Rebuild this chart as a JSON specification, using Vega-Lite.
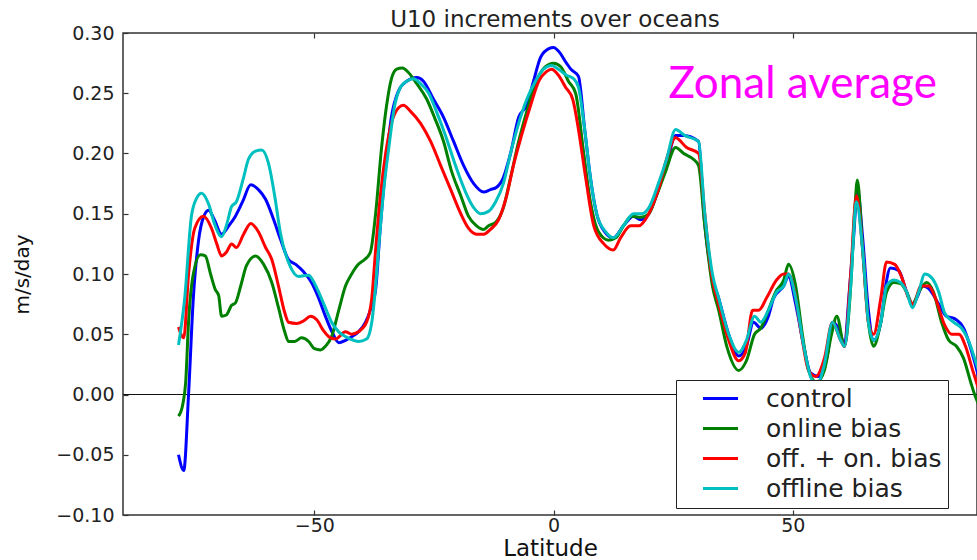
{
 "$schema": "https://vega.github.io/schema/vega-lite/v6.json",
 "width": 854,
 "height": 482,
 "autosize": "none",
 "padding": {"left": 123, "top": 33, "right": 0, "bottom": 45},
 "background": "white",
 "config": {"view": {"stroke": "#333", "strokeWidth": 1.5}, "font": "DejaVu Sans"},
 "title": {"text": "U10 increments over oceans", "font": "DejaVu Sans", "fontSize": 23, "fontWeight": "normal", "color": "#222", "offset": -8, "dx": 5, "anchor": "middle", "frame": "group"},
 "datasets": {
  "curves": [
   {"s":"control","lat":-78.4,"u":-0.05},{"s":"control","lat":-77.3,"u":-0.063},{"s":"control","lat":-76.3,"u":0.0},{"s":"control","lat":-75.3,"u":0.08},{"s":"control","lat":-74.2,"u":0.128},{"s":"control","lat":-73.2,"u":0.147},{"s":"control","lat":-72.1,"u":0.153},{"s":"control","lat":-70.9,"u":0.145},{"s":"control","lat":-69.4,"u":0.133},{"s":"control","lat":-67.9,"u":0.14},{"s":"control","lat":-66.5,"u":0.148},{"s":"control","lat":-65.0,"u":0.16},{"s":"control","lat":-63.3,"u":0.174},{"s":"control","lat":-61.7,"u":0.17},{"s":"control","lat":-60.2,"u":0.162},{"s":"control","lat":-58.5,"u":0.145},{"s":"control","lat":-57.1,"u":0.129},{"s":"control","lat":-55.4,"u":0.112},{"s":"control","lat":-53.9,"u":0.108},{"s":"control","lat":-52.3,"u":0.102},{"s":"control","lat":-50.6,"u":0.093},{"s":"control","lat":-49.1,"u":0.08},{"s":"control","lat":-47.7,"u":0.065},{"s":"control","lat":-46.2,"u":0.051},{"s":"control","lat":-44.9,"u":0.043},{"s":"control","lat":-43.5,"u":0.045},{"s":"control","lat":-42.2,"u":0.048},{"s":"control","lat":-40.8,"u":0.052},{"s":"control","lat":-39.3,"u":0.06},{"s":"control","lat":-38.3,"u":0.07},{"s":"control","lat":-37.2,"u":0.087},{"s":"control","lat":-36.2,"u":0.14},{"s":"control","lat":-35.1,"u":0.189},{"s":"control","lat":-33.9,"u":0.23},{"s":"control","lat":-32.4,"u":0.252},{"s":"control","lat":-30.7,"u":0.26},{"s":"control","lat":-28.6,"u":0.263},{"s":"control","lat":-27.2,"u":0.26},{"s":"control","lat":-25.1,"u":0.245},{"s":"control","lat":-23.0,"u":0.23},{"s":"control","lat":-20.9,"u":0.21},{"s":"control","lat":-18.8,"u":0.19},{"s":"control","lat":-16.7,"u":0.175},{"s":"control","lat":-14.6,"u":0.168},{"s":"control","lat":-13.2,"u":0.17},{"s":"control","lat":-11.9,"u":0.172},{"s":"control","lat":-10.5,"u":0.18},{"s":"control","lat":-9.0,"u":0.2},{"s":"control","lat":-7.3,"u":0.23},{"s":"control","lat":-5.6,"u":0.24},{"s":"control","lat":-4.2,"u":0.26},{"s":"control","lat":-2.7,"u":0.28},{"s":"control","lat":-1.0,"u":0.287},{"s":"control","lat":0.0,"u":0.288},{"s":"control","lat":1.0,"u":0.285},{"s":"control","lat":2.7,"u":0.275},{"s":"control","lat":3.6,"u":0.27},{"s":"control","lat":5.2,"u":0.264},{"s":"control","lat":6.5,"u":0.22},{"s":"control","lat":7.7,"u":0.18},{"s":"control","lat":9.0,"u":0.15},{"s":"control","lat":10.7,"u":0.135},{"s":"control","lat":12.5,"u":0.13},{"s":"control","lat":14.6,"u":0.14},{"s":"control","lat":16.7,"u":0.148},{"s":"control","lat":18.2,"u":0.145},{"s":"control","lat":19.9,"u":0.15},{"s":"control","lat":21.9,"u":0.17},{"s":"control","lat":23.6,"u":0.19},{"s":"control","lat":25.5,"u":0.215},{"s":"control","lat":27.2,"u":0.215},{"s":"control","lat":30.3,"u":0.21},{"s":"control","lat":31.4,"u":0.15},{"s":"control","lat":33.0,"u":0.1},{"s":"control","lat":34.5,"u":0.08},{"s":"control","lat":36.6,"u":0.05},{"s":"control","lat":38.7,"u":0.032},{"s":"control","lat":40.3,"u":0.04},{"s":"control","lat":41.8,"u":0.06},{"s":"control","lat":43.3,"u":0.055},{"s":"control","lat":44.9,"u":0.065},{"s":"control","lat":46.0,"u":0.08},{"s":"control","lat":48.1,"u":0.09},{"s":"control","lat":49.1,"u":0.098},{"s":"control","lat":50.6,"u":0.075},{"s":"control","lat":52.3,"u":0.04},{"s":"control","lat":53.7,"u":0.018},{"s":"control","lat":55.4,"u":0.015},{"s":"control","lat":57.1,"u":0.03},{"s":"control","lat":58.5,"u":0.06},{"s":"control","lat":60.0,"u":0.05},{"s":"control","lat":60.8,"u":0.04},{"s":"control","lat":61.7,"u":0.08},{"s":"control","lat":62.7,"u":0.13},{"s":"control","lat":63.5,"u":0.17},{"s":"control","lat":64.6,"u":0.13},{"s":"control","lat":65.8,"u":0.07},{"s":"control","lat":66.9,"u":0.045},{"s":"control","lat":68.4,"u":0.06},{"s":"control","lat":69.4,"u":0.09},{"s":"control","lat":70.4,"u":0.105},{"s":"control","lat":72.1,"u":0.103},{"s":"control","lat":73.8,"u":0.085},{"s":"control","lat":75.0,"u":0.075},{"s":"control","lat":75.9,"u":0.08},{"s":"control","lat":77.1,"u":0.09},{"s":"control","lat":78.4,"u":0.088},{"s":"control","lat":80.5,"u":0.075},{"s":"control","lat":82.1,"u":0.065},{"s":"control","lat":83.8,"u":0.063},{"s":"control","lat":85.7,"u":0.055},{"s":"control","lat":87.8,"u":0.03},{"s":"control","lat":88.8,"u":0.015},
   {"s":"online bias","lat":-78.4,"u":-0.018},{"s":"online bias","lat":-77.5,"u":-0.008},{"s":"online bias","lat":-76.9,"u":0.01},{"s":"online bias","lat":-76.3,"u":0.06},{"s":"online bias","lat":-75.3,"u":0.1},{"s":"online bias","lat":-73.8,"u":0.116},{"s":"online bias","lat":-72.8,"u":0.115},{"s":"online bias","lat":-71.7,"u":0.1},{"s":"online bias","lat":-70.7,"u":0.087},{"s":"online bias","lat":-70.0,"u":0.082},{"s":"online bias","lat":-69.4,"u":0.065},{"s":"online bias","lat":-68.4,"u":0.066},{"s":"online bias","lat":-67.3,"u":0.074},{"s":"online bias","lat":-66.5,"u":0.076},{"s":"online bias","lat":-65.4,"u":0.09},{"s":"online bias","lat":-64.2,"u":0.107},{"s":"online bias","lat":-62.3,"u":0.115},{"s":"online bias","lat":-60.6,"u":0.108},{"s":"online bias","lat":-58.9,"u":0.093},{"s":"online bias","lat":-57.5,"u":0.072},{"s":"online bias","lat":-56.2,"u":0.052},{"s":"online bias","lat":-55.4,"u":0.044},{"s":"online bias","lat":-54.1,"u":0.044},{"s":"online bias","lat":-52.7,"u":0.047},{"s":"online bias","lat":-51.2,"u":0.044},{"s":"online bias","lat":-50.0,"u":0.038},{"s":"online bias","lat":-48.7,"u":0.037},{"s":"online bias","lat":-47.7,"u":0.04},{"s":"online bias","lat":-46.4,"u":0.048},{"s":"online bias","lat":-44.9,"u":0.07},{"s":"online bias","lat":-43.5,"u":0.09},{"s":"online bias","lat":-42.2,"u":0.1},{"s":"online bias","lat":-40.8,"u":0.108},{"s":"online bias","lat":-39.5,"u":0.112},{"s":"online bias","lat":-38.3,"u":0.118},{"s":"online bias","lat":-37.2,"u":0.15},{"s":"online bias","lat":-36.0,"u":0.203},{"s":"online bias","lat":-34.9,"u":0.24},{"s":"online bias","lat":-33.9,"u":0.262},{"s":"online bias","lat":-32.8,"u":0.27},{"s":"online bias","lat":-31.6,"u":0.271},{"s":"online bias","lat":-30.3,"u":0.267},{"s":"online bias","lat":-28.6,"u":0.258},{"s":"online bias","lat":-26.5,"u":0.245},{"s":"online bias","lat":-24.9,"u":0.23},{"s":"online bias","lat":-23.0,"u":0.21},{"s":"online bias","lat":-21.3,"u":0.185},{"s":"online bias","lat":-19.4,"u":0.165},{"s":"online bias","lat":-17.8,"u":0.148},{"s":"online bias","lat":-16.1,"u":0.14},{"s":"online bias","lat":-14.6,"u":0.137},{"s":"online bias","lat":-13.6,"u":0.14},{"s":"online bias","lat":-12.1,"u":0.143},{"s":"online bias","lat":-10.5,"u":0.155},{"s":"online bias","lat":-9.0,"u":0.18},{"s":"online bias","lat":-7.3,"u":0.21},{"s":"online bias","lat":-5.6,"u":0.235},{"s":"online bias","lat":-3.6,"u":0.26},{"s":"online bias","lat":-1.7,"u":0.272},{"s":"online bias","lat":0.0,"u":0.275},{"s":"online bias","lat":1.5,"u":0.272},{"s":"online bias","lat":3.1,"u":0.26},{"s":"online bias","lat":4.6,"u":0.25},{"s":"online bias","lat":6.3,"u":0.2},{"s":"online bias","lat":7.7,"u":0.16},{"s":"online bias","lat":9.4,"u":0.135},{"s":"online bias","lat":11.5,"u":0.128},{"s":"online bias","lat":13.0,"u":0.13},{"s":"online bias","lat":14.6,"u":0.14},{"s":"online bias","lat":16.3,"u":0.148},{"s":"online bias","lat":18.2,"u":0.147},{"s":"online bias","lat":19.9,"u":0.15},{"s":"online bias","lat":21.5,"u":0.165},{"s":"online bias","lat":23.4,"u":0.185},{"s":"online bias","lat":25.5,"u":0.205},{"s":"online bias","lat":27.2,"u":0.2},{"s":"online bias","lat":29.3,"u":0.195},{"s":"online bias","lat":30.3,"u":0.19},{"s":"online bias","lat":31.6,"u":0.14},{"s":"online bias","lat":33.2,"u":0.09},{"s":"online bias","lat":34.5,"u":0.07},{"s":"online bias","lat":36.2,"u":0.04},{"s":"online bias","lat":38.7,"u":0.02},{"s":"online bias","lat":40.3,"u":0.028},{"s":"online bias","lat":42.0,"u":0.05},{"s":"online bias","lat":43.3,"u":0.055},{"s":"online bias","lat":44.9,"u":0.07},{"s":"online bias","lat":46.4,"u":0.085},{"s":"online bias","lat":48.1,"u":0.095},{"s":"online bias","lat":49.1,"u":0.108},{"s":"online bias","lat":50.6,"u":0.09},{"s":"online bias","lat":52.0,"u":0.05},{"s":"online bias","lat":53.3,"u":0.02},{"s":"online bias","lat":55.0,"u":0.01},{"s":"online bias","lat":56.6,"u":0.02},{"s":"online bias","lat":58.1,"u":0.05},{"s":"online bias","lat":59.2,"u":0.065},{"s":"online bias","lat":60.8,"u":0.04},{"s":"online bias","lat":62.1,"u":0.09},{"s":"online bias","lat":62.9,"u":0.15},{"s":"online bias","lat":63.5,"u":0.178},{"s":"online bias","lat":64.6,"u":0.12},{"s":"online bias","lat":65.8,"u":0.06},{"s":"online bias","lat":66.9,"u":0.04},{"s":"online bias","lat":68.4,"u":0.06},{"s":"online bias","lat":69.6,"u":0.085},{"s":"online bias","lat":71.1,"u":0.093},{"s":"online bias","lat":72.5,"u":0.092},{"s":"online bias","lat":73.8,"u":0.085},{"s":"online bias","lat":75.0,"u":0.075},{"s":"online bias","lat":76.3,"u":0.085},{"s":"online bias","lat":78.0,"u":0.093},{"s":"online bias","lat":79.4,"u":0.085},{"s":"online bias","lat":81.1,"u":0.06},{"s":"online bias","lat":82.6,"u":0.045},{"s":"online bias","lat":84.2,"u":0.04},{"s":"online bias","lat":85.7,"u":0.03},{"s":"online bias","lat":87.2,"u":0.01},{"s":"online bias","lat":88.0,"u":0.0},{"s":"online bias","lat":88.8,"u":-0.008},
   {"s":"off. + on. bias","lat":-78.4,"u":0.056},{"s":"off. + on. bias","lat":-77.3,"u":0.047},{"s":"off. + on. bias","lat":-76.3,"u":0.1},{"s":"off. + on. bias","lat":-75.0,"u":0.138},{"s":"off. + on. bias","lat":-73.2,"u":0.148},{"s":"off. + on. bias","lat":-71.5,"u":0.138},{"s":"off. + on. bias","lat":-70.4,"u":0.125},{"s":"off. + on. bias","lat":-69.4,"u":0.115},{"s":"off. + on. bias","lat":-68.4,"u":0.118},{"s":"off. + on. bias","lat":-67.3,"u":0.125},{"s":"off. + on. bias","lat":-66.3,"u":0.122},{"s":"off. + on. bias","lat":-64.8,"u":0.133},{"s":"off. + on. bias","lat":-63.3,"u":0.142},{"s":"off. + on. bias","lat":-61.7,"u":0.135},{"s":"off. + on. bias","lat":-60.2,"u":0.122},{"s":"off. + on. bias","lat":-58.9,"u":0.112},{"s":"off. + on. bias","lat":-57.5,"u":0.09},{"s":"off. + on. bias","lat":-56.2,"u":0.068},{"s":"off. + on. bias","lat":-55.4,"u":0.06},{"s":"off. + on. bias","lat":-53.7,"u":0.059},{"s":"off. + on. bias","lat":-52.3,"u":0.061},{"s":"off. + on. bias","lat":-50.8,"u":0.065},{"s":"off. + on. bias","lat":-49.5,"u":0.062},{"s":"off. + on. bias","lat":-48.1,"u":0.053},{"s":"off. + on. bias","lat":-47.0,"u":0.048},{"s":"off. + on. bias","lat":-45.6,"u":0.046},{"s":"off. + on. bias","lat":-43.5,"u":0.052},{"s":"off. + on. bias","lat":-42.2,"u":0.05},{"s":"off. + on. bias","lat":-40.8,"u":0.052},{"s":"off. + on. bias","lat":-39.1,"u":0.06},{"s":"off. + on. bias","lat":-38.0,"u":0.08},{"s":"off. + on. bias","lat":-37.2,"u":0.12},{"s":"off. + on. bias","lat":-36.2,"u":0.165},{"s":"off. + on. bias","lat":-35.1,"u":0.2},{"s":"off. + on. bias","lat":-33.9,"u":0.225},{"s":"off. + on. bias","lat":-32.4,"u":0.238},{"s":"off. + on. bias","lat":-31.4,"u":0.24},{"s":"off. + on. bias","lat":-29.9,"u":0.235},{"s":"off. + on. bias","lat":-27.8,"u":0.225},{"s":"off. + on. bias","lat":-25.7,"u":0.21},{"s":"off. + on. bias","lat":-23.6,"u":0.19},{"s":"off. + on. bias","lat":-21.5,"u":0.17},{"s":"off. + on. bias","lat":-19.4,"u":0.15},{"s":"off. + on. bias","lat":-17.8,"u":0.138},{"s":"off. + on. bias","lat":-16.1,"u":0.133},{"s":"off. + on. bias","lat":-14.6,"u":0.133},{"s":"off. + on. bias","lat":-13.2,"u":0.137},{"s":"off. + on. bias","lat":-11.5,"u":0.145},{"s":"off. + on. bias","lat":-9.8,"u":0.165},{"s":"off. + on. bias","lat":-8.4,"u":0.19},{"s":"off. + on. bias","lat":-6.7,"u":0.215},{"s":"off. + on. bias","lat":-4.8,"u":0.24},{"s":"off. + on. bias","lat":-3.1,"u":0.26},{"s":"off. + on. bias","lat":-1.5,"u":0.268},{"s":"off. + on. bias","lat":-0.4,"u":0.27},{"s":"off. + on. bias","lat":1.0,"u":0.265},{"s":"off. + on. bias","lat":2.5,"u":0.255},{"s":"off. + on. bias","lat":4.0,"u":0.245},{"s":"off. + on. bias","lat":5.2,"u":0.22},{"s":"off. + on. bias","lat":6.7,"u":0.18},{"s":"off. + on. bias","lat":8.4,"u":0.14},{"s":"off. + on. bias","lat":10.5,"u":0.125},{"s":"off. + on. bias","lat":12.5,"u":0.12},{"s":"off. + on. bias","lat":14.0,"u":0.13},{"s":"off. + on. bias","lat":16.1,"u":0.14},{"s":"off. + on. bias","lat":17.8,"u":0.14},{"s":"off. + on. bias","lat":19.9,"u":0.15},{"s":"off. + on. bias","lat":21.9,"u":0.17},{"s":"off. + on. bias","lat":23.6,"u":0.195},{"s":"off. + on. bias","lat":25.5,"u":0.213},{"s":"off. + on. bias","lat":27.8,"u":0.205},{"s":"off. + on. bias","lat":30.3,"u":0.2},{"s":"off. + on. bias","lat":31.6,"u":0.15},{"s":"off. + on. bias","lat":33.0,"u":0.1},{"s":"off. + on. bias","lat":34.5,"u":0.075},{"s":"off. + on. bias","lat":36.6,"u":0.045},{"s":"off. + on. bias","lat":38.7,"u":0.028},{"s":"off. + on. bias","lat":40.1,"u":0.035},{"s":"off. + on. bias","lat":41.6,"u":0.07},{"s":"off. + on. bias","lat":42.9,"u":0.07},{"s":"off. + on. bias","lat":44.5,"u":0.08},{"s":"off. + on. bias","lat":46.6,"u":0.095},{"s":"off. + on. bias","lat":48.1,"u":0.1},{"s":"off. + on. bias","lat":49.1,"u":0.1},{"s":"off. + on. bias","lat":50.4,"u":0.085},{"s":"off. + on. bias","lat":51.8,"u":0.05},{"s":"off. + on. bias","lat":53.3,"u":0.02},{"s":"off. + on. bias","lat":54.8,"u":0.015},{"s":"off. + on. bias","lat":56.6,"u":0.03},{"s":"off. + on. bias","lat":58.3,"u":0.06},{"s":"off. + on. bias","lat":60.0,"u":0.045},{"s":"off. + on. bias","lat":60.8,"u":0.04},{"s":"off. + on. bias","lat":62.1,"u":0.1},{"s":"off. + on. bias","lat":63.3,"u":0.165},{"s":"off. + on. bias","lat":64.6,"u":0.12},{"s":"off. + on. bias","lat":65.8,"u":0.06},{"s":"off. + on. bias","lat":66.9,"u":0.05},{"s":"off. + on. bias","lat":68.4,"u":0.08},{"s":"off. + on. bias","lat":69.6,"u":0.11},{"s":"off. + on. bias","lat":71.3,"u":0.108},{"s":"off. + on. bias","lat":72.7,"u":0.098},{"s":"off. + on. bias","lat":74.2,"u":0.08},{"s":"off. + on. bias","lat":75.3,"u":0.075},{"s":"off. + on. bias","lat":76.7,"u":0.09},{"s":"off. + on. bias","lat":78.4,"u":0.09},{"s":"off. + on. bias","lat":79.8,"u":0.08},{"s":"off. + on. bias","lat":81.7,"u":0.058},{"s":"off. + on. bias","lat":83.2,"u":0.05},{"s":"off. + on. bias","lat":84.7,"u":0.05},{"s":"off. + on. bias","lat":86.1,"u":0.04},{"s":"off. + on. bias","lat":87.6,"u":0.02},{"s":"off. + on. bias","lat":88.8,"u":0.005},
   {"s":"offline bias","lat":-78.4,"u":0.041},{"s":"offline bias","lat":-77.1,"u":0.08},{"s":"offline bias","lat":-75.7,"u":0.148},{"s":"offline bias","lat":-74.6,"u":0.163},{"s":"offline bias","lat":-73.6,"u":0.167},{"s":"offline bias","lat":-72.1,"u":0.158},{"s":"offline bias","lat":-70.9,"u":0.142},{"s":"offline bias","lat":-69.4,"u":0.131},{"s":"offline bias","lat":-68.4,"u":0.14},{"s":"offline bias","lat":-67.3,"u":0.156},{"s":"offline bias","lat":-66.3,"u":0.16},{"s":"offline bias","lat":-64.8,"u":0.18},{"s":"offline bias","lat":-63.8,"u":0.195},{"s":"offline bias","lat":-62.3,"u":0.202},{"s":"offline bias","lat":-61.0,"u":0.203},{"s":"offline bias","lat":-59.6,"u":0.192},{"s":"offline bias","lat":-58.3,"u":0.165},{"s":"offline bias","lat":-57.1,"u":0.134},{"s":"offline bias","lat":-55.0,"u":0.106},{"s":"offline bias","lat":-53.3,"u":0.098},{"s":"offline bias","lat":-51.2,"u":0.099},{"s":"offline bias","lat":-50.2,"u":0.094},{"s":"offline bias","lat":-49.1,"u":0.085},{"s":"offline bias","lat":-47.7,"u":0.072},{"s":"offline bias","lat":-46.4,"u":0.06},{"s":"offline bias","lat":-44.9,"u":0.052},{"s":"offline bias","lat":-43.5,"u":0.048},{"s":"offline bias","lat":-41.8,"u":0.045},{"s":"offline bias","lat":-40.8,"u":0.044},{"s":"offline bias","lat":-39.1,"u":0.046},{"s":"offline bias","lat":-38.0,"u":0.06},{"s":"offline bias","lat":-37.2,"u":0.09},{"s":"offline bias","lat":-36.6,"u":0.12},{"s":"offline bias","lat":-35.5,"u":0.17},{"s":"offline bias","lat":-34.5,"u":0.203},{"s":"offline bias","lat":-33.2,"u":0.24},{"s":"offline bias","lat":-32.0,"u":0.255},{"s":"offline bias","lat":-30.7,"u":0.26},{"s":"offline bias","lat":-29.3,"u":0.262},{"s":"offline bias","lat":-27.8,"u":0.258},{"s":"offline bias","lat":-26.1,"u":0.25},{"s":"offline bias","lat":-24.5,"u":0.235},{"s":"offline bias","lat":-22.6,"u":0.215},{"s":"offline bias","lat":-20.5,"u":0.19},{"s":"offline bias","lat":-18.4,"u":0.168},{"s":"offline bias","lat":-16.7,"u":0.155},{"s":"offline bias","lat":-15.3,"u":0.15},{"s":"offline bias","lat":-13.6,"u":0.152},{"s":"offline bias","lat":-12.1,"u":0.16},{"s":"offline bias","lat":-10.5,"u":0.175},{"s":"offline bias","lat":-9.0,"u":0.2},{"s":"offline bias","lat":-7.3,"u":0.225},{"s":"offline bias","lat":-5.6,"u":0.245},{"s":"offline bias","lat":-3.8,"u":0.26},{"s":"offline bias","lat":-2.1,"u":0.27},{"s":"offline bias","lat":-0.4,"u":0.273},{"s":"offline bias","lat":1.0,"u":0.27},{"s":"offline bias","lat":2.7,"u":0.265},{"s":"offline bias","lat":4.2,"u":0.262},{"s":"offline bias","lat":5.2,"u":0.255},{"s":"offline bias","lat":6.5,"u":0.22},{"s":"offline bias","lat":7.7,"u":0.18},{"s":"offline bias","lat":9.0,"u":0.15},{"s":"offline bias","lat":10.9,"u":0.135},{"s":"offline bias","lat":12.5,"u":0.13},{"s":"offline bias","lat":14.6,"u":0.14},{"s":"offline bias","lat":16.7,"u":0.15},{"s":"offline bias","lat":18.4,"u":0.15},{"s":"offline bias","lat":19.9,"u":0.155},{"s":"offline bias","lat":21.9,"u":0.175},{"s":"offline bias","lat":23.6,"u":0.195},{"s":"offline bias","lat":25.5,"u":0.22},{"s":"offline bias","lat":27.4,"u":0.215},{"s":"offline bias","lat":30.3,"u":0.21},{"s":"offline bias","lat":31.6,"u":0.15},{"s":"offline bias","lat":33.2,"u":0.1},{"s":"offline bias","lat":34.5,"u":0.08},{"s":"offline bias","lat":36.6,"u":0.05},{"s":"offline bias","lat":38.7,"u":0.035},{"s":"offline bias","lat":40.3,"u":0.045},{"s":"offline bias","lat":42.0,"u":0.065},{"s":"offline bias","lat":43.3,"u":0.06},{"s":"offline bias","lat":44.9,"u":0.07},{"s":"offline bias","lat":46.6,"u":0.085},{"s":"offline bias","lat":48.1,"u":0.09},{"s":"offline bias","lat":49.1,"u":0.1},{"s":"offline bias","lat":50.6,"u":0.08},{"s":"offline bias","lat":52.3,"u":0.04},{"s":"offline bias","lat":53.7,"u":0.015},{"s":"offline bias","lat":55.0,"u":0.008},{"s":"offline bias","lat":56.6,"u":0.025},{"s":"offline bias","lat":58.3,"u":0.06},{"s":"offline bias","lat":60.0,"u":0.045},{"s":"offline bias","lat":60.8,"u":0.04},{"s":"offline bias","lat":62.1,"u":0.09},{"s":"offline bias","lat":63.3,"u":0.16},{"s":"offline bias","lat":64.6,"u":0.12},{"s":"offline bias","lat":65.8,"u":0.06},{"s":"offline bias","lat":66.9,"u":0.045},{"s":"offline bias","lat":68.4,"u":0.06},{"s":"offline bias","lat":69.6,"u":0.09},{"s":"offline bias","lat":71.1,"u":0.095},{"s":"offline bias","lat":72.5,"u":0.093},{"s":"offline bias","lat":73.8,"u":0.085},{"s":"offline bias","lat":75.0,"u":0.072},{"s":"offline bias","lat":76.3,"u":0.085},{"s":"offline bias","lat":77.6,"u":0.1},{"s":"offline bias","lat":79.0,"u":0.097},{"s":"offline bias","lat":80.5,"u":0.085},{"s":"offline bias","lat":81.7,"u":0.068},{"s":"offline bias","lat":83.6,"u":0.06},{"s":"offline bias","lat":85.3,"u":0.055},{"s":"offline bias","lat":86.7,"u":0.045},{"s":"offline bias","lat":88.0,"u":0.03},{"s":"offline bias","lat":88.8,"u":0.02}
  ]
 },
 "layer": [
  {
   "data": {"values": [{"zero": 0}]},
   "mark": {"type": "rule", "color": "#111", "strokeWidth": 1.2},
   "encoding": {"y": {"field": "zero", "type": "quantitative"}}
  },
  {
   "data": {"name": "curves"},
   "mark": {"type": "line", "strokeWidth": 3, "interpolate": "monotone", "clip": true},
   "encoding": {
    "x": {"field": "lat", "type": "quantitative", "scale": {"domain": [-90, 88.5], "nice": false, "zero": false},
     "axis": {"values": [-50, 0, 50], "labelExpr": "replace(datum.label, '-', '−')", "title": "Latitude", "titleFont": "DejaVu Sans", "titleFontSize": 23, "titleFontWeight": "normal", "titleColor": "#111", "labelFont": "DejaVu Sans", "labelFontSize": 19, "labelColor": "#222", "tickSize": -5, "tickColor": "#333", "tickWidth": 1.2, "domain": false, "grid": false, "labelPadding": 6, "titlePadding": 2}},
    "y": {"field": "u", "type": "quantitative", "scale": {"domain": [-0.1, 0.3], "nice": false, "zero": false},
     "axis": {"values": [-0.1, -0.05, 0, 0.05, 0.1, 0.15, 0.2, 0.25, 0.3], "format": ".2f", "labelExpr": "replace(datum.label, '-', '−')", "title": "m/s/day", "titleFont": "DejaVu Sans", "titleFontSize": 20, "titleFontWeight": "normal", "titleColor": "#111", "labelFont": "DejaVu Sans", "labelFontSize": 19, "labelColor": "#222", "tickSize": -5, "tickColor": "#333", "tickWidth": 1.2, "domain": false, "grid": false, "labelPadding": 14, "titlePadding": 23}},
    "color": {"field": "s", "type": "nominal",
     "scale": {"domain": ["control", "online bias", "off. + on. bias", "offline bias"], "range": ["#0000ff", "#008000", "#ff0000", "#00bfbf"]},
     "legend": {"orient": "none", "legendX": 553, "legendY": 347, "title": null, "labelFont": "DejaVu Sans", "labelFontSize": 25, "labelColor": "#222", "labelLimit": 400, "symbolType": "M-1.75,0H1.75", "symbolSize": 400, "symbolStrokeWidth": 3, "strokeColor": "#222", "fillColor": "white", "padding": 6, "rowPadding": 4, "symbolOffset": 26, "labelOffset": 33, "cornerRadius": 0}}
   }
  },
  {
   "data": {"values": [{"label": "Zonal average"}]},
   "mark": {"type": "text", "font": "Lato", "fontSize": 44, "color": "#ff00ff", "align": "left", "baseline": "alphabetic"},
   "encoding": {
    "x": {"datum": 24, "type": "quantitative", "axis": {"orient": "top", "values": [-50, 0, 50], "labels": false, "title": null, "domain": false, "grid": false, "tickSize": -5, "tickColor": "#333", "tickWidth": 1.2}},
    "y": {"datum": 0.246, "type": "quantitative"},
    "text": {"field": "label"}
   }
  }
 ],
 "resolve": {"axis": {"x": "independent"}}
}
